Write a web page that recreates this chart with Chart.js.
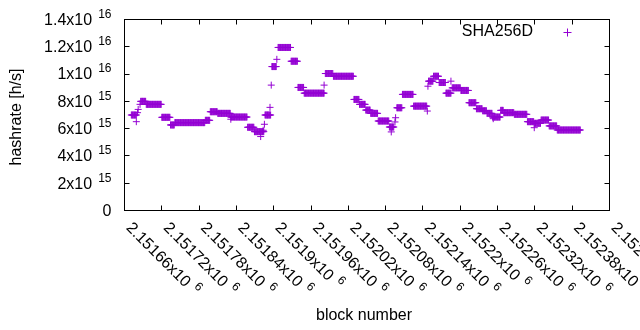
<!DOCTYPE html>
<html>
<head>
<meta charset="utf-8">
<script src="https://cdn.jsdelivr.net/npm/chart.js@4.4.1/dist/chart.umd.min.js"></script>
<style>
html, body { margin: 0; padding: 0; background: #fff; }
</style>
</head>
<body>
<canvas id="myChart" width="640" height="330"></canvas>
<script>
// hashrate estimate stays the same for every block from runFirst to runLast
var runFirst = [2151671, 2151686, 2151695, 2151720, 2151734, 2151741, 2151790, 2151798, 2151810, 2151831,
    2151858, 2151869, 2151886, 2151897, 2151907, 2151928, 2151939, 2151949, 2151983, 2151996,
    2152029, 2152038, 2152048, 2152056, 2152068, 2152086, 2152098, 2152107, 2152125, 2152149,
    2152157, 2152166, 2152177, 2152187, 2152201, 2152214, 2152226, 2152236, 2152243, 2152252,
    2152265, 2152270, 2152287, 2152308, 2152319, 2152330, 2152343, 2152356];
var runLast = [2151679, 2151694, 2151719, 2151733, 2151740, 2151789, 2151797, 2151809, 2151830, 2151857,
    2151868, 2151884, 2151895, 2151904, 2151927, 2151938, 2151948, 2151981, 2151995, 2152028,
    2152037, 2152047, 2152055, 2152067, 2152085, 2152093, 2152106, 2152124, 2152146, 2152156,
    2152165, 2152176, 2152185, 2152200, 2152213, 2152225, 2152235, 2152242, 2152251, 2152264,
    2152269, 2152286, 2152307, 2152318, 2152329, 2152342, 2152355, 2152393];
var runRate = [7.0e15, 8.0e15, 7.78e15, 6.83e15, 6.27e15, 6.44e15, 6.61e15, 7.24e15, 7.12e15, 6.85e15,
    6.10e15, 5.78e15, 7.0e15, 10.55e15, 11.95e15, 10.94e15, 9.02e15, 8.60e15, 10.04e15, 9.84e15,
    8.14e15, 7.78e15, 7.36e15, 7.12e15, 6.56e15, 6.12e15, 7.53e15, 8.51e15, 7.65e15, 9.48e15,
    9.84e15, 9.38e15, 8.6e15, 8.99e15, 8.8e15, 7.9e15, 7.46e15, 7.31e15, 7.12e15, 6.85e15,
    7.34e15, 7.17e15, 7.05e15, 6.51e15, 6.39e15, 6.63e15, 6.2e15, 5.9e15];

// single blocks sticking out of the runs
var spikeBlock = [2151679, 2151681, 2151682, 2151685, 2151831, 2151879, 2151883, 2151885, 2151894, 2151896,
    2151905, 2151981, 2152089, 2152095, 2152096, 2152147, 2152148, 2152185, 2152253, 2152319];
var spikeRate = [6.51e15, 7.17e15, 7.41e15, 7.78e15, 6.69e15, 5.42e15, 5.88e15, 6.32e15, 7.56e15, 9.19e15,
    11.08e15, 9.19e15, 5.76e15, 6.49e15, 6.8e15, 7.29e15, 9.11e15, 9.48e15, 6.73e15, 6.07e15];

var xTicks = [2151660, 2151720, 2151780, 2151840, 2151900, 2151960, 2152020, 2152080, 2152140,
    2152200, 2152260, 2152320, 2152380, 2152440];
var xTickText = ['2.15166x10^6', '2.15172x10^6', '2.15178x10^6', '2.15184x10^6', '2.1519x10^6',
    '2.15196x10^6', '2.15202x10^6', '2.15208x10^6', '2.15214x10^6', '2.1522x10^6',
    '2.15226x10^6', '2.15232x10^6', '2.15238x10^6', '2.15244x10^6'];
var yTicks = [0, 2e15, 4e15, 6e15, 8e15, 1e16, 1.2e16, 1.4e16];
var yTickText = ['0', '2x10^15', '4x10^15', '6x10^15', '8x10^15', '1x10^16', '1.2x10^16', '1.4x10^16'];

var seriesName = 'SHA256D';
var xTitle = 'block number';
var yTitle = 'hashrate [h/s]';

var purple = '#9400d3';
var fontFamily = '"Liberation Sans", Arial, sans-serif';

var points = [];
for (var i = 0; i < runFirst.length; i++) {
    for (var b = runFirst[i]; b <= runLast[i]; b++) {
        points.push({ x: b, y: runRate[i] });
    }
}
for (var j = 0; j < spikeBlock.length; j++) {
    points.push({ x: spikeBlock[j], y: spikeRate[j] });
}

// draws "base^exp" with a raised smaller exponent
function drawPowText(c, text, x, y, align) {
    var parts = text.split('^');
    c.font = '16px ' + fontFamily;
    var baseW = c.measureText(parts[0]).width;
    var expW = 0;
    if (parts[1]) {
        c.font = '12px ' + fontFamily;
        expW = c.measureText(parts[1]).width + 6;
    }
    var startX = align == 'right' ? x - baseW - expW : x;
    c.textAlign = 'left';
    c.textBaseline = 'middle';
    c.font = '16px ' + fontFamily;
    c.fillText(parts[0], startX, y);
    if (parts[1]) {
        c.font = '12px ' + fontFamily;
        c.fillText(parts[1], startX + baseW + 6, y - 6);
    }
}

var gnuplotFrame = {
    id: 'gnuplotFrame',
    afterDraw: function (chart) {
        var c = chart.ctx;
        var a = chart.chartArea;
        var sx = chart.scales.x;
        var sy = chart.scales.y;
        c.save();
        c.strokeStyle = '#000';
        c.lineWidth = 1;
        c.strokeRect(a.left, a.top, a.right - a.left, a.bottom - a.top);

        c.beginPath();
        yTicks.forEach(function (v) {
            var py = Math.floor(sy.getPixelForValue(v)) + 0.5;
            c.moveTo(a.left, py); c.lineTo(a.left + 5, py);
            c.moveTo(a.right, py); c.lineTo(a.right - 5, py);
        });
        xTicks.forEach(function (v) {
            var px = Math.floor(sx.getPixelForValue(v)) + 0.5;
            c.moveTo(px, a.bottom); c.lineTo(px, a.bottom - 5);
            c.moveTo(px, a.top); c.lineTo(px, a.top + 5);
        });
        c.stroke();

        c.fillStyle = '#000';
        yTicks.forEach(function (v, k) {
            drawPowText(c, yTickText[k], 111.5, sy.getPixelForValue(v) + 1, 'right');
        });
        xTicks.forEach(function (v, k) {
            c.save();
            c.translate(sx.getPixelForValue(v) + 4, a.bottom + 15);
            c.rotate(Math.PI / 4);
            drawPowText(c, xTickText[k], 0, 0, 'left');
            c.restore();
        });

        c.font = '16px ' + fontFamily;
        c.textAlign = 'center';
        c.textBaseline = 'middle';
        c.fillText(xTitle, 364, 316);
        c.save();
        c.translate(17, 117);
        c.rotate(-Math.PI / 2);
        c.fillText(yTitle, 0, 0);
        c.restore();

        // key in the top right corner
        c.textAlign = 'right';
        c.fillText(seriesName, 533, 32);
        c.strokeStyle = purple;
        c.beginPath();
        c.moveTo(563.5, 32.5); c.lineTo(571.5, 32.5);
        c.moveTo(567.5, 28.5); c.lineTo(567.5, 36.5);
        c.stroke();
        c.restore();
    }
};

var ctx = document.getElementById('myChart').getContext('2d');
window.myChart = new Chart(ctx, {
    type: 'scatter',
    data: {
        datasets: [{
            label: seriesName,
            data: points,
            pointStyle: 'cross',
            pointRadius: 3.5,
            pointHoverRadius: 3.5,
            pointBorderWidth: 1,
            borderColor: purple,
            backgroundColor: purple
        }]
    },
    options: {
        responsive: false,
        animation: false,
        devicePixelRatio: 1,
        layout: { padding: { left: 124.5, right: 30.5, top: 19.5, bottom: 119.5 } },
        plugins: { legend: { display: false }, tooltip: { enabled: false } },
        scales: {
            x: { type: 'linear', display: false, min: 2151660, max: 2152440 },
            y: { type: 'linear', display: false, min: 0, max: 1.4e16 }
        }
    },
    plugins: [gnuplotFrame]
});
</script>
</body>
</html>
